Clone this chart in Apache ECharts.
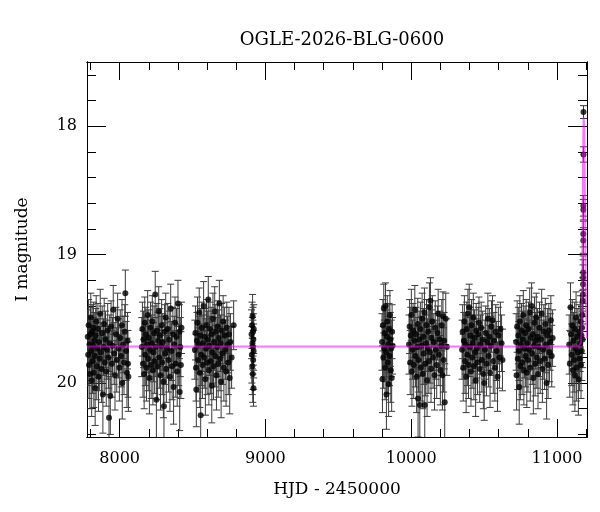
<!DOCTYPE html>
<html>
<head>
<meta charset="utf-8">
<script src="https://cdn.jsdelivr.net/npm/echarts@6/dist/echarts.min.js"></script>
<style>
html,body{margin:0;padding:0;background:#fff}
#main{width:600px;height:512px}
</style>
</head>
<body>
<div id="main"></div>
<script>
// photometry: [HJD-2450000, I mag, error], one array per season
var season1 = [[7781,19.64,0.21],[7784,19.78,0.24],[7787,19.55,0.20],[7790,19.86,0.26],[7793,19.70,0.22],[7796,19.93,0.27],[7799,19.62,0.21],[7802,19.49,0.19],[7805,19.75,0.23],[7808,19.98,0.28],[7811,19.60,0.21],[7814,19.83,0.25],[7817,19.71,0.22],[7820,19.57,0.20],[7823,19.92,0.27],[7826,19.67,0.22],[7829,19.79,0.24],[7832,20.04,0.29],[7836,19.63,0.21],[7839,19.52,0.20],[7843,19.87,0.26],[7847,19.73,0.23],[7851,19.58,0.20],[7855,19.95,0.27],[7859,19.68,0.22],[7863,19.81,0.25],[7867,19.46,0.19],[7871,19.76,0.23],[7876,19.89,0.26],[7880,19.61,0.21],[7885,20.09,0.30],[7889,19.72,0.22],[7894,19.54,0.20],[7898,19.84,0.25],[7903,19.66,0.22],[7908,19.91,0.27],[7913,19.74,0.23],[7918,19.59,0.21],[7923,19.80,0.24],[7927,20.27,0.32],[7932,19.69,0.22],[7936,20.10,0.30],[7941,19.56,0.20],[7946,19.85,0.26],[7951,19.71,0.22],[7956,19.43,0.19],[7962,19.77,0.24],[7968,19.94,0.27],[7974,19.62,0.21],[7980,19.82,0.25],[7986,19.50,0.20],[7992,19.73,0.23],[7998,19.88,0.26],[8004,19.65,0.22],[8010,19.79,0.24],[8016,19.55,0.20],[8018,20.00,0.28],[8024,19.70,0.22],[8030,19.84,0.25],[8035,19.60,0.21],[8039,19.30,0.18],[8044,19.75,0.23],[8050,19.92,0.27],[8054,19.67,0.22],[8057,19.85,0.26],[8060,19.95,0.27]];
var season2 = [[8152,19.72,0.23],[8156,19.58,0.21],[8160,19.85,0.26],[8164,19.66,0.22],[8168,19.93,0.27],[8172,19.53,0.20],[8176,19.78,0.24],[8180,19.62,0.21],[8184,19.88,0.26],[8188,19.70,0.22],[8192,19.47,0.19],[8196,19.81,0.25],[8200,19.65,0.22],[8204,19.96,0.28],[8208,19.74,0.23],[8212,19.57,0.20],[8216,19.86,0.26],[8220,19.69,0.22],[8224,19.52,0.20],[8228,19.90,0.27],[8232,19.76,0.23],[8236,19.61,0.21],[8240,19.83,0.25],[8244,19.31,0.18],[8248,19.72,0.23],[8252,20.13,0.30],[8256,19.59,0.21],[8260,19.87,0.26],[8264,19.67,0.22],[8268,19.44,0.19],[8272,19.80,0.24],[8276,19.63,0.21],[8280,19.94,0.27],[8284,19.71,0.23],[8288,19.55,0.20],[8292,19.84,0.25],[8296,19.68,0.22],[8300,19.99,0.28],[8304,20.18,0.31],[8308,19.60,0.21],[8312,19.77,0.24],[8316,19.49,0.19],[8320,19.89,0.26],[8325,19.73,0.23],[8330,19.58,0.20],[8335,19.82,0.25],[8340,19.66,0.22],[8345,19.95,0.27],[8350,19.42,0.19],[8355,19.75,0.23],[8360,19.87,0.26],[8365,19.62,0.21],[8370,20.03,0.29],[8375,19.70,0.22],[8380,19.53,0.20],[8385,19.85,0.26],[8390,19.64,0.22],[8395,19.91,0.27],[8400,19.38,0.18],[8405,19.78,0.24],[8410,19.60,0.21],[8412,20.07,0.30],[8416,19.72,0.23],[8420,19.86,0.26],[8424,19.57,0.20]];
var season3 = [[8516,19.74,0.23],[8520,19.61,0.21],[8524,19.88,0.26],[8526,20.05,0.29],[8530,19.67,0.22],[8534,19.53,0.20],[8538,19.82,0.25],[8542,19.70,0.22],[8546,19.45,0.19],[8550,19.92,0.27],[8553,19.63,0.21],[8556,20.25,0.32],[8560,19.78,0.24],[8564,19.57,0.20],[8568,19.86,0.26],[8572,19.69,0.22],[8576,19.40,0.19],[8580,19.80,0.24],[8584,19.64,0.22],[8588,19.97,0.28],[8592,19.73,0.23],[8596,19.55,0.20],[8600,19.84,0.25],[8604,19.66,0.22],[8608,19.35,0.18],[8612,19.90,0.27],[8616,19.71,0.23],[8620,19.58,0.21],[8624,19.83,0.25],[8628,19.62,0.21],[8632,20.02,0.29],[8636,19.76,0.24],[8640,19.50,0.20],[8644,19.87,0.26],[8648,19.68,0.22],[8652,19.44,0.19],[8656,19.79,0.24],[8660,19.60,0.21],[8664,19.94,0.27],[8668,19.72,0.23],[8672,19.56,0.20],[8676,19.85,0.26],[8680,19.65,0.22],[8684,19.38,0.18],[8688,19.81,0.25],[8692,19.69,0.22],[8696,19.99,0.28],[8700,19.59,0.21],[8705,19.77,0.24],[8710,19.52,0.20],[8715,19.88,0.26],[8720,19.63,0.22],[8725,19.74,0.23],[8730,19.91,0.27],[8735,19.57,0.20],[8740,19.70,0.22],[8745,19.84,0.25],[8750,19.62,0.21],[8755,19.96,0.28],[8760,19.68,0.22],[8768,19.80,0.24],[8782,19.55,0.19]];
var season4 = [[8905,19.62,0.19],[8907,19.78,0.22],[8908,19.55,0.18],[8910,19.87,0.22],[8911,19.69,0.20],[8912,19.48,0.17],[8913,19.93,0.22],[8914,19.72,0.21],[8915,19.60,0.19],[8916,19.82,0.23],[8917,19.66,0.20],[8918,20.04,0.14],[8919,19.75,0.21],[8920,19.58,0.19]];
var season5 = [[9800,19.68,0.22],[9803,19.97,0.26],[9806,19.55,0.20],[9809,19.80,0.24],[9812,19.42,0.19],[9815,19.73,0.22],[9818,19.61,0.21],[9821,19.88,0.25],[9824,19.40,0.18],[9827,19.76,0.23],[9830,20.09,0.27],[9833,19.64,0.21],[9836,19.52,0.20],[9839,19.84,0.24],[9842,19.70,0.22],[9845,20.01,0.25],[9848,19.58,0.20],[9851,19.79,0.23],[9854,19.47,0.19],[9857,19.66,0.21],[9860,19.90,0.25],[9863,19.73,0.22],[9866,19.96,0.26],[9869,19.60,0.21],[9872,19.71,0.22]];
var season6 = [[9985,19.70,0.23],[9989,19.56,0.21],[9993,19.84,0.25],[9997,19.63,0.22],[10001,19.47,0.20],[10005,19.91,0.27],[10009,19.74,0.23],[10013,19.59,0.21],[10017,19.86,0.26],[10021,19.67,0.22],[10025,19.43,0.19],[10029,19.79,0.24],[10033,19.62,0.21],[10037,19.95,0.28],[10041,19.72,0.23],[10045,19.54,0.20],[10047,20.12,0.30],[10051,19.82,0.25],[10055,19.66,0.22],[10059,20.17,0.31],[10063,19.58,0.21],[10067,19.88,0.26],[10071,19.71,0.23],[10075,19.50,0.20],[10079,19.93,0.27],[10083,19.64,0.22],[10087,19.77,0.24],[10091,19.45,0.19],[10093,20.17,0.31],[10097,19.85,0.25],[10101,19.69,0.22],[10105,19.55,0.20],[10109,19.98,0.28],[10113,19.73,0.23],[10117,19.60,0.21],[10121,19.83,0.25],[10125,19.41,0.19],[10129,19.76,0.24],[10132,19.36,0.18],[10136,19.89,0.26],[10140,19.65,0.22],[10145,19.52,0.20],[10150,19.80,0.24],[10155,19.68,0.22],[10160,19.94,0.27],[10165,19.57,0.21],[10170,19.74,0.23],[10175,19.86,0.26],[10180,19.61,0.21],[10185,19.46,0.19],[10190,19.78,0.24],[10195,19.66,0.22],[10200,19.90,0.27],[10205,19.71,0.23],[10210,19.55,0.20],[10214,19.94,0.27],[10218,19.48,0.19],[10222,19.82,0.25],[10226,19.67,0.22],[10230,20.15,0.30],[10237,19.50,0.20],[10244,19.72,0.22]];
var season7 = [[10349,19.74,0.23],[10353,19.60,0.21],[10357,19.88,0.26],[10361,19.67,0.22],[10365,19.52,0.20],[10369,19.83,0.25],[10373,19.70,0.23],[10377,19.95,0.28],[10381,19.58,0.21],[10385,19.78,0.24],[10389,19.46,0.19],[10393,19.86,0.26],[10398,19.41,0.18],[10402,19.72,0.23],[10406,19.63,0.22],[10410,19.91,0.27],[10414,19.55,0.20],[10418,19.80,0.24],[10422,19.69,0.22],[10426,19.49,0.19],[10430,19.87,0.26],[10434,19.65,0.22],[10438,19.76,0.24],[10442,19.98,0.28],[10446,19.59,0.21],[10450,19.73,0.23],[10455,19.84,0.25],[10460,19.62,0.21],[10465,19.53,0.20],[10470,19.89,0.26],[10475,19.70,0.23],[10480,19.57,0.20],[10485,19.82,0.25],[10490,19.66,0.22],[10495,19.93,0.27],[10501,20.00,0.29],[10506,19.74,0.23],[10511,19.61,0.21],[10516,19.85,0.25],[10521,19.68,0.22],[10526,19.50,0.20],[10531,19.79,0.24],[10536,19.64,0.22],[10541,19.92,0.27],[10546,19.71,0.23],[10551,19.56,0.20],[10558,19.51,0.19],[10563,19.83,0.25],[10568,19.67,0.22],[10574,19.88,0.26],[10580,19.60,0.21],[10586,19.75,0.23],[10592,19.95,0.27],[10598,19.63,0.22],[10605,19.80,0.24],[10612,19.58,0.21],[10620,19.69,0.22],[10626,19.82,0.24]];
var season8 = [[10720,19.68,0.22],[10723,19.94,0.27],[10727,19.56,0.20],[10731,19.81,0.24],[10735,19.63,0.22],[10739,19.75,0.23],[10741,20.03,0.29],[10745,19.52,0.20],[10749,19.87,0.26],[10753,19.70,0.22],[10757,19.59,0.21],[10761,19.84,0.25],[10765,19.66,0.22],[10769,19.47,0.19],[10773,19.90,0.27],[10777,19.73,0.23],[10781,19.61,0.21],[10785,19.79,0.24],[10789,19.55,0.20],[10793,19.92,0.27],[10797,19.69,0.22],[10801,19.82,0.25],[10805,19.58,0.21],[10809,19.74,0.23],[10813,19.45,0.19],[10817,19.88,0.26],[10821,19.65,0.22],[10826,19.40,0.18],[10830,19.77,0.24],[10834,19.62,0.21],[10838,19.96,0.28],[10842,19.71,0.23],[10846,19.53,0.20],[10850,19.85,0.25],[10854,19.67,0.22],[10858,19.49,0.19],[10862,19.80,0.24],[10866,19.64,0.22],[10870,19.93,0.27],[10875,19.72,0.23],[10880,19.57,0.20],[10885,19.83,0.25],[10890,19.66,0.22],[10895,19.46,0.19],[10900,19.89,0.26],[10905,19.74,0.23],[10910,19.60,0.21],[10915,19.81,0.24],[10920,19.54,0.20],[10925,19.70,0.22],[10929,20.00,0.28],[10934,19.63,0.21],[10939,19.86,0.26],[10944,19.59,0.21],[10949,19.76,0.23],[10954,19.68,0.22],[10958,19.51,0.19],[10964,19.79,0.24],[10970,19.65,0.22]];
var season9 = [[11084,19.70,0.23],[11088,19.85,0.26],[11093,19.41,0.19],[11097,19.62,0.21],[11101,19.78,0.24],[11105,19.55,0.20],[11109,19.90,0.27],[11113,19.67,0.22],[11117,19.82,0.25],[11121,19.58,0.21],[11123,19.94,0.28],[11127,19.73,0.23],[11131,19.49,0.20],[11135,19.88,0.26],[11139,19.64,0.22],[11143,19.76,0.23],[11147,19.97,0.28],[11151,19.60,0.21],[11155,19.81,0.25],[11159,19.69,0.22],[11162,19.52,0.20],[11165,19.86,0.26],[11168,19.63,0.21],[11170,19.75,0.23],[11172,19.57,0.20],[11174,19.47,0.19],[11176,19.66,0.22],[11177,19.36,0.18],[11178,19.31,0.17],[11179,19.23,0.15],[11179.5,19.18,0.14],[11180,19.14,0.13],[11180.5,18.89,0.10],[11180.5,18.84,0.10],[11181,18.65,0.08],[11181,18.62,0.08],[11181.5,18.22,0.06],[11182,17.89,0.05]];

// fitted model curve
var modelHjd = [7776, 11150, 11160, 11165, 11168, 11170, 11172, 11175, 11178, 11181, 11183, 11185, 11187, 11190, 11193, 11196, 11199, 11203, 11206];
var modelMag = [19.715, 19.715, 19.705, 19.68, 19.62, 19.5, 19.3, 18.9, 18.4, 18.05, 17.93, 17.92, 18.0, 18.3, 18.7, 19.1, 19.4, 19.58, 19.65];

var xMajor = [8000, 9000, 10000, 11000];
var xMinor = [7800, 8000, 8200, 8400, 8600, 8800, 9000, 9200, 9400, 9600, 9800, 10000, 10200, 10400, 10600, 10800, 11000, 11200];
var yMajor = [18, 19, 20];
var yMinor = [17.6, 17.8, 18, 18.2, 18.4, 18.6, 18.8, 19, 19.2, 19.4, 19.6, 19.8, 20, 20.2, 20.4];

var hjdMin = 7776, hjdMax = 11206;
var magMin = 17.5, magMax = 20.42;

var points = season1.concat(season2, season3, season4, season5, season6, season7, season8, season9);
var model = modelHjd.map(function (h, i) { return [h, modelMag[i]]; });

var font = 'DejaVu Serif';

function xAxis(pos, ticks, len, withLabels) {
  return {
    type: 'value', position: pos, min: hjdMin, max: hjdMax,
    axisLine: { show: true, onZero: false, lineStyle: { color: '#000', width: 1 } },
    axisTick: { show: true, inside: true, length: len, customValues: ticks, lineStyle: { color: '#000', width: 1 } },
    axisLabel: withLabels ? {
      show: true, customValues: ticks, margin: 14, color: '#000',
      fontFamily: font, fontSize: 16, formatter: function (v) { return String(v); }
    } : { show: false },
    splitLine: { show: false },
    name: withLabels ? 'HJD - 2450000' : '',
    nameLocation: 'middle', nameGap: 44,
    nameTextStyle: { color: '#000', fontFamily: font, fontSize: 17 }
  };
}

function yAxis(pos, ticks, len, withLabels) {
  return {
    type: 'value', position: pos, inverse: true, min: magMin, max: magMax,
    axisLine: { show: true, onZero: false, lineStyle: { color: '#000', width: 1 } },
    axisTick: { show: true, inside: true, length: len, customValues: ticks, lineStyle: { color: '#000', width: 1 } },
    axisLabel: withLabels ? {
      show: true, customValues: ticks, margin: 10, color: '#000',
      fontFamily: font, fontSize: 16, formatter: function (v) { return String(v); }
    } : { show: false },
    splitLine: { show: false },
    name: withLabels ? 'I magnitude' : '',
    nameLocation: 'middle', nameGap: 56, nameRotate: 90,
    nameTextStyle: { color: '#000', fontFamily: font, fontSize: 17 }
  };
}

var myChart = echarts.init(document.getElementById('main'));

var option = {
  animation: false,
  backgroundColor: '#fff',
  title: {
    text: 'OGLE-2026-BLG-0600',
    left: 337, top: 26, textAlign: 'center',
    textStyle: { color: '#000', fontFamily: font, fontSize: 18, fontWeight: 'normal' }
  },
  grid: { left: 87, right: 13, top: 62, bottom: 75 },
  xAxis: [
    xAxis('bottom', xMinor, 8, false),
    xAxis('bottom', xMajor, 18, true),
    xAxis('top', xMinor, 8, false),
    xAxis('top', xMajor, 18, false)
  ],
  yAxis: [
    yAxis('left', yMinor, 9, false),
    yAxis('left', yMajor, 19, true),
    yAxis('right', yMinor, 9, false),
    yAxis('right', yMajor, 19, false)
  ],
  series: [
    {
      // error bars with caps
      type: 'custom',
      xAxisIndex: 0, yAxisIndex: 0,
      clip: true,
      data: points,
      encode: { x: 0, y: 1 },
      renderItem: function (params, api) {
        var x = api.value(0), m = api.value(1), e = api.value(2);
        var top = api.coord([x, m - e]);
        var bot = api.coord([x, m + e]);
        var cw = 3.5;
        var st = { stroke: '#3a3a3a', lineWidth: 1 };
        return {
          type: 'group',
          children: [
            { type: 'line', shape: { x1: top[0], y1: top[1], x2: bot[0], y2: bot[1] }, style: st },
            { type: 'line', shape: { x1: top[0] - cw, y1: top[1], x2: top[0] + cw, y2: top[1] }, style: st },
            { type: 'line', shape: { x1: bot[0] - cw, y1: bot[1], x2: bot[0] + cw, y2: bot[1] }, style: st }
          ]
        };
      },
      z: 2
    },
    {
      type: 'scatter',
      xAxisIndex: 0, yAxisIndex: 0,
      data: points.map(function (p) { return [p[0], p[1]]; }),
      symbol: 'circle', symbolSize: 6,
      itemStyle: { color: '#000' },
      z: 3
    },
    {
      type: 'line',
      xAxisIndex: 0, yAxisIndex: 0,
      data: model,
      showSymbol: false,
      lineStyle: { color: 'rgba(255,0,255,0.55)', width: 2 },
      z: 4
    }
  ]
};

myChart.setOption(option);
</script>
</body>
</html>
